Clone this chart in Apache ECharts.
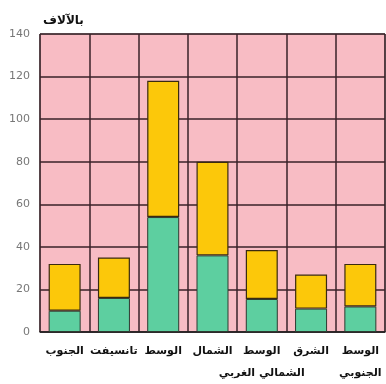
<!DOCTYPE html>
<html><head><meta charset="utf-8">
<script src="https://cdn.jsdelivr.net/npm/echarts@6/dist/echarts.min.js"></script>
<style>html,body{margin:0;padding:0;background:#fff}#c{width:386px;height:384px}</style>
</head><body><div id="c"></div>
<script>
const categories = ["الجنوب","تانسيفت","الوسط","الشمال","الوسط\nالشمالي الغربي","الشرق","الوسط\nالجنوبي"];
const greenValues = [10, 16, 54, 36, 15.5, 11, 12];
const totalValues = [32, 35, 118, 80, 38.5, 27, 32];
const yellowValues = totalValues.map((t,i)=>t-greenValues[i]);
const unitLabel = "بالآلاف";

const chart = echarts.init(document.getElementById('c'));
chart.setOption({
  animation:false,
  backgroundColor:'#ffffff',
  title:{text:unitLabel,left:38,top:10,textStyle:{fontFamily:'DejaVu Sans',fontSize:12,fontWeight:'bold',color:'#111'}},
  grid:{left:40,right:1,top:34,bottom:51,show:true,backgroundColor:'#f8bcc4',borderColor:'#555',borderWidth:1},
  xAxis:{type:'category',data:categories,
    axisLine:{show:true,lineStyle:{color:'#222',width:1.5}},
    axisTick:{show:false},
    splitLine:{show:true,lineStyle:{color:'#3a2228',width:1.5}},
    axisLabel:{interval:0,color:'#111',fontFamily:'DejaVu Sans',fontWeight:'bold',fontSize:11,margin:8,lineHeight:22}},
  yAxis:{type:'value',min:0,max:140,interval:20,
    axisLine:{show:false},axisTick:{show:false},
    splitLine:{show:true,lineStyle:{color:'#3a2228',width:1.5}},
    axisLabel:{color:'#777',fontFamily:'DejaVu Sans',fontSize:11,margin:10}},
  series:[
    {type:'bar',stack:'a',data:greenValues,barWidth:32,itemStyle:{color:'#5dcfa0',borderColor:'#2d3a30',borderWidth:1}},
    {type:'bar',stack:'a',data:yellowValues,barWidth:32,itemStyle:{color:'#fcc80a',borderColor:'#3a2a10',borderWidth:1.2}}
  ]
});
</script></body></html>
